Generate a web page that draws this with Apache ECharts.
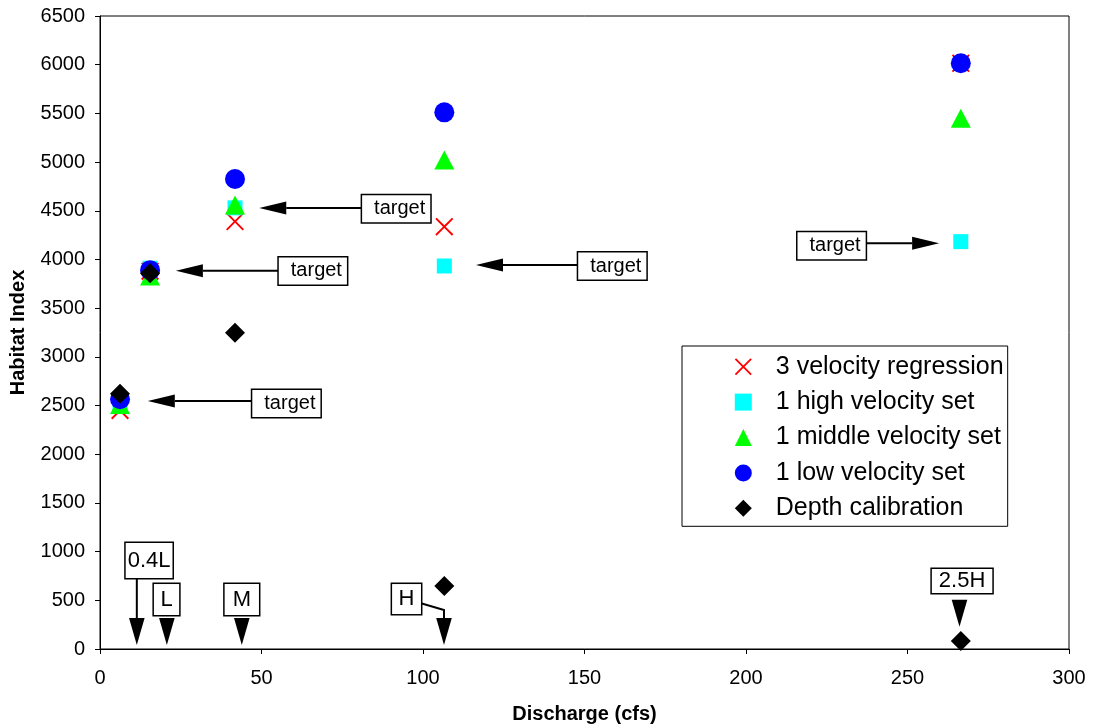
<!DOCTYPE html>
<html><head><meta charset="utf-8">
<script src="https://cdn.jsdelivr.net/npm/echarts@6/dist/echarts.min.js"></script>
<style>html,body{margin:0;padding:0;background:#fff}#c{width:1093px;height:728px}</style>
</head><body><div id="c"></div>
<script>
// ---------------- data ----------------
const seriesNames = ['3 velocity regression', '1 high velocity set', '1 middle velocity set', '1 low velocity set', 'Depth calibration'];
const dischargeCfs = [6.2, 15.5, 41.8, 106.6, 266.5];
const regression3 = [2450, 3880, 4390, 4337, 6015];
const highSet     = [2520, 3910, 4530, 3933, 4183];
const middleSet   = [2510, 3830, 4559, 5022, 5450];
const lowSet      = [2565, 3890, 4826, 5511, 6015];
const depthCal    = [2620, 3858, 3248, 647, 82];

// annotation anchors (data coordinates)
const targetNotes = [
  { text: 'target', label: [57.7, 2521], tip: [14.8, 2547] },
  { text: 'target', label: [65.9, 3882], tip: [23.5, 3885] },
  { text: 'target', label: [91.7, 4521], tip: [49.3, 4529] },
  { text: 'target', label: [158.6, 3933], tip: [116.4, 3943] },
  { text: 'target', label: [226.5, 4141], tip: [259.8, 4166] }
];
const flowMarks = [
  { text: '0.4L', label: [15.2, 909], tip: [11.4, 41], leader: 'vertical' },
  { text: 'L',    label: [20.6, 508], tip: [20.7, 41], leader: 'none' },
  { text: 'M',    label: [43.9, 508], tip: [43.9, 41], leader: 'none' },
  { text: 'H',    label: [94.9, 513], tip: [106.5, 41], leader: 'elbow', elbow: [106.5, 400] },
  { text: '2.5H', label: [266.9, 698], tip: [266.1, 229], leader: 'none' }
];

// ---------------- styles ----------------
const FONT = '"Liberation Sans", Arial, Helvetica, sans-serif';
const X_PATH = 'path://M0,1.5 L1.5,0 L10,8.5 L18.5,0 L20,1.5 L11.5,10 L20,18.5 L18.5,20 L10,11.5 L1.5,20 L0,18.5 L8.5,10 Z';
const seriesStyle = [
  { symbol: X_PATH, size: 18, color: '#FF0000' },
  { symbol: 'rect', size: 15, color: '#00FFFF' },
  { symbol: 'triangle', size: [20, 19], color: '#00FF00' },
  { symbol: 'circle', size: 20, color: '#0000FF' },
  { symbol: 'diamond', size: 20, color: '#000000' }
];
const flagPadding = { '0.4L': [6.5, 2], 'L': [4.5, 6.5], 'M': [4.5, 8], 'H': [4, 6.5], '2.5H': [1, 7] };

const seriesValues = [regression3, highSet, middleSet, lowSet, depthCal];

const chart = echarts.init(document.getElementById('c'), null, { renderer: 'canvas' });

const series = seriesNames.map((name, i) => ({
  name,
  type: 'scatter',
  symbol: seriesStyle[i].symbol,
  symbolSize: seriesStyle[i].size,
  itemStyle: { color: seriesStyle[i].color, opacity: 1 },
  emphasis: { disabled: true },
  z: 2 + i,
  data: dischargeCfs.map((x, k) => [x, seriesValues[i][k]])
}));

chart.setOption({
  animation: false,
  backgroundColor: '#fff',
  textStyle: { fontFamily: FONT },
  grid: { left: 100, right: 24, top: 16, bottom: 79, containLabel: false, outerBoundsMode: 'none',
          show: true, borderColor: '#000', borderWidth: 1, backgroundColor: 'transparent' },
  xAxis: {
    type: 'value', min: 0, max: 300, interval: 50,
    name: 'Discharge (cfs)', nameLocation: 'middle', nameGap: 55,
    nameTextStyle: { fontFamily: FONT, fontSize: 20, fontWeight: 'bold', color: '#000' },
    axisLine: { show: true, lineStyle: { color: '#000', width: 1 } },
    axisTick: { show: true, length: 5, lineStyle: { color: '#000' } },
    axisLabel: { fontFamily: FONT, fontSize: 20, color: '#000', margin: 19, formatter: v => String(v) },
    splitLine: { show: false }
  },
  yAxis: {
    type: 'value', min: 0, max: 6500, interval: 500,
    name: 'Habitat Index', nameLocation: 'middle', nameGap: 72, nameRotate: 90,
    nameTextStyle: { fontFamily: FONT, fontSize: 20, fontWeight: 'bold', color: '#000' },
    axisLine: { show: true, lineStyle: { color: '#000', width: 1 } },
    axisTick: { show: true, length: 5, lineStyle: { color: '#000' } },
    axisLabel: { fontFamily: FONT, fontSize: 20, color: '#000', margin: 15, formatter: v => String(v) },
    splitLine: { show: false }
  },
  legend: {
    orient: 'vertical', left: 682, top: 346,
    data: seriesNames,
    itemWidth: 17, itemHeight: 17, itemGap: 10.4,
    padding: [8.2, 4, 5.5, 52.8],
    borderColor: '#000', borderWidth: 1, backgroundColor: '#fff',
    textStyle: { fontFamily: FONT, fontSize: 25, color: '#000', lineHeight: 25, padding: [0, 0, 0, 19] },
    selectedMode: false
  },
  series
});

function px(p) { return chart.convertToPixel({ gridIndex: 0 }, p); }

const graphics = [];
targetNotes.forEach(n => {
  const c = px(n.label), t = px(n.tip);
  const dir = Math.sign(c[0] - t[0]);
  const baseX = t[0] + dir * 27;
  graphics.push({ type: 'polyline', z: 100, shape: { points: [[c[0], t[1]], [baseX, t[1]]] }, style: { stroke: '#000', lineWidth: 2, fill: null } });
  graphics.push({ type: 'polygon', z: 100, shape: { points: [[t[0], t[1]], [baseX, t[1] - 6.5], [baseX, t[1] + 6.5]] }, style: { fill: '#000' } });
  graphics.push({ type: 'text', z: 101, x: c[0], y: c[1], style: {
    text: n.text, fontFamily: FONT, fontSize: 20, lineHeight: 20, fill: '#000',
    align: 'center', verticalAlign: 'middle', padding: [3.5, 5, 3.5, 12],
    backgroundColor: '#fff', borderColor: '#000', borderWidth: 1.5 } });
});
flowMarks.forEach(f => {
  const c = px(f.label), t = px(f.tip);
  const top = t[1] - 27;
  if (f.leader === 'vertical') {
    graphics.push({ type: 'polyline', z: 100, shape: { points: [[t[0], c[1]], [t[0], top]] }, style: { stroke: '#000', lineWidth: 2, fill: null } });
  } else if (f.leader === 'elbow') {
    const e = px(f.elbow);
    graphics.push({ type: 'polyline', z: 100, shape: { points: [[c[0], c[1]], [e[0], e[1]], [t[0], top]] }, style: { stroke: '#000', lineWidth: 2, fill: null } });
  }
  graphics.push({ type: 'polygon', z: 100, shape: { points: [[t[0], t[1]], [t[0] - 7.8, top], [t[0] + 7.8, top]] }, style: { fill: '#000' } });
  const pd = flagPadding[f.text];
  graphics.push({ type: 'text', z: 101, x: c[0], y: c[1], style: {
    text: f.text, fontFamily: FONT, fontSize: 22, lineHeight: 22, fill: '#000',
    align: 'center', verticalAlign: 'middle', padding: pd,
    backgroundColor: '#fff', borderColor: '#000', borderWidth: 1.5 } });
});
chart.setOption({ graphic: { elements: graphics } });
</script>
</body></html>
